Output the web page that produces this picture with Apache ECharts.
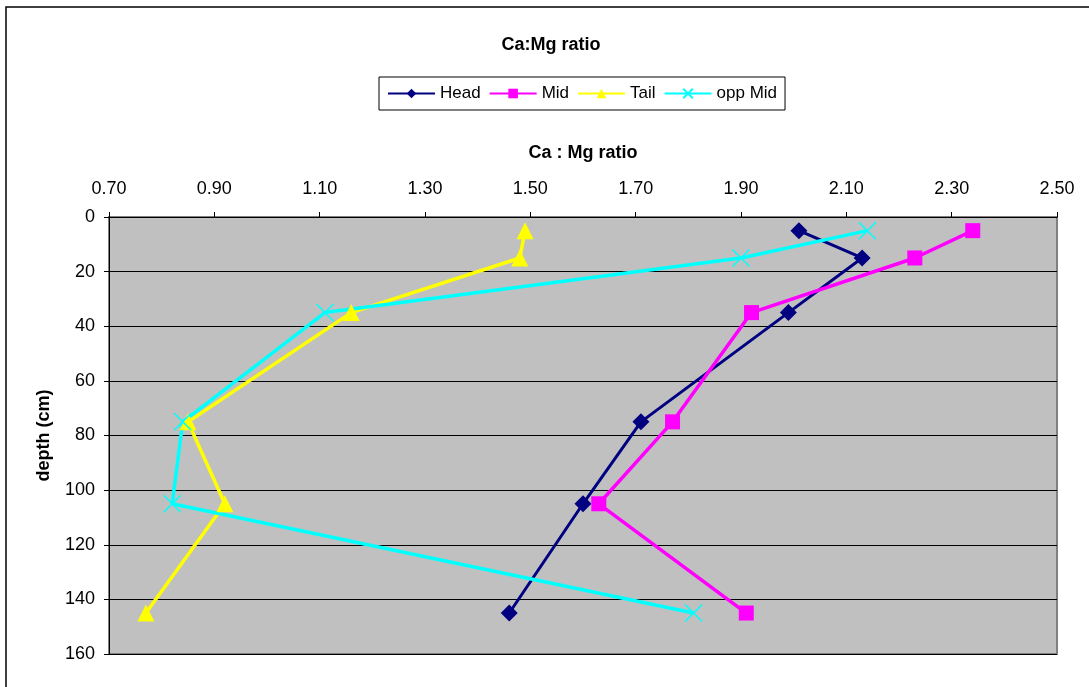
<!DOCTYPE html>
<html>
<head>
<meta charset="utf-8">
<script src="https://cdn.jsdelivr.net/npm/echarts@6/dist/echarts.min.js"></script>
<style>
html,body{margin:0;padding:0;background:#fff;}
#chart{width:1089px;height:687px;}
</style>
</head>
<body>
<div id="chart"></div>
<script>
// Data
const depths = [5, 15, 35, 75, 105, 145];
const headRatio = [2.01, 2.13, 1.99, 1.71, 1.60, 1.46];
const midRatio = [2.34, 2.23, 1.92, 1.77, 1.63, 1.91];
const tailRatio = [1.49, 1.48, 1.16, 0.85, 0.92, 0.77];
const oppMidRatio = [2.14, 1.90, 1.11, 0.84, 0.82, 1.81];
const seriesNames = ['Head', 'Mid', 'Tail', 'opp Mid'];
const xTickMin = 0.7, xTickMax = 2.5, xTickStep = 0.2;
const yTickMin = 0, yTickMax = 160, yTickStep = 20;

const pairs = (xs) => xs.map((v, i) => [v, depths[i]]);
const FONT = 'Liberation Sans, Arial, sans-serif';

const chart = echarts.init(document.getElementById('chart'), null, {renderer: 'canvas'});
chart.setOption({
  animation: false,
  backgroundColor: '#ffffff',
  textStyle: {fontFamily: FONT, color: '#000'},
  graphic: [{
    type: 'rect', z: -10,
    shape: {x: 6, y: 7, width: 1200, height: 800},
    style: {fill: 'none', stroke: '#000', lineWidth: 1.5}
  }],
  title: {
    text: 'Ca:Mg ratio', left: 546, top: 31, textAlign: 'center',
    textStyle: {fontFamily: FONT, fontSize: 18, fontWeight: 'bold', color: '#000'}
  },
  legend: {
    data: seriesNames,
    left: 379, top: 77,
    padding: [8, 8, 8, 8],
    borderColor: '#000', borderWidth: 1,
    itemWidth: 47, itemHeight: 12, itemGap: 8,
    textStyle: {fontFamily: FONT, fontSize: 17, color: '#000'}
  },
  grid: {
    left: 109, top: 217, width: 948, height: 437,
    show: true, backgroundColor: '#C0C0C0', borderColor: '#808080', borderWidth: 2
  },
  xAxis: {
    type: 'value', position: 'top',
    min: xTickMin, max: xTickMax, interval: xTickStep,
    name: 'Ca : Mg ratio', nameLocation: 'middle', nameGap: 55,
    nameTextStyle: {fontFamily: FONT, fontSize: 18, fontWeight: 'bold', color: '#000'},
    axisLine: {show: true, lineStyle: {color: '#000', width: 1}},
    axisTick: {show: true, length: 5, lineStyle: {color: '#000'}},
    axisLabel: {margin: 19, fontFamily: FONT, fontSize: 18, color: '#000',
      formatter: (v) => v.toFixed(2)},
    splitLine: {show: false}
  },
  yAxis: {
    type: 'value', inverse: true,
    min: yTickMin, max: yTickMax, interval: yTickStep,
    name: 'depth (cm)', nameLocation: 'middle', nameGap: 56, nameRotate: 90,
    nameTextStyle: {fontFamily: FONT, fontSize: 18, fontWeight: 'bold', color: '#000'},
    axisLine: {show: true, lineStyle: {color: '#000', width: 1}},
    axisTick: {show: true, length: 5, lineStyle: {color: '#000'}},
    axisLabel: {margin: 14, fontFamily: FONT, fontSize: 18, color: '#000'},
    splitLine: {show: true, lineStyle: {color: '#000', width: 1}}
  },
  series: [
    {
      name: 'Head', type: 'line', data: pairs(headRatio),
      symbol: 'diamond', symbolSize: 17,
      lineStyle: {color: '#000080', width: 3},
      itemStyle: {color: '#000080'}
    },
    {
      name: 'Mid', type: 'line', data: pairs(midRatio),
      symbol: 'rect', symbolSize: 15,
      lineStyle: {color: '#FF00FF', width: 3.5},
      itemStyle: {color: '#FF00FF'}
    },
    {
      name: 'Tail', type: 'line', data: pairs(tailRatio),
      symbol: 'triangle', symbolSize: 17,
      lineStyle: {color: '#FFFF00', width: 3.5},
      itemStyle: {color: '#FFFF00'}
    },
    {
      name: 'opp Mid', type: 'line', data: pairs(oppMidRatio),
      symbol: 'path://M0,0L10,10M10,0L0,10', symbolSize: 17,
      lineStyle: {color: '#00FFFF', width: 3.5},
      itemStyle: {color: 'none', borderColor: '#00FFFF', borderWidth: 1.5}
    }
  ]
});
</script>
</body>
</html>
